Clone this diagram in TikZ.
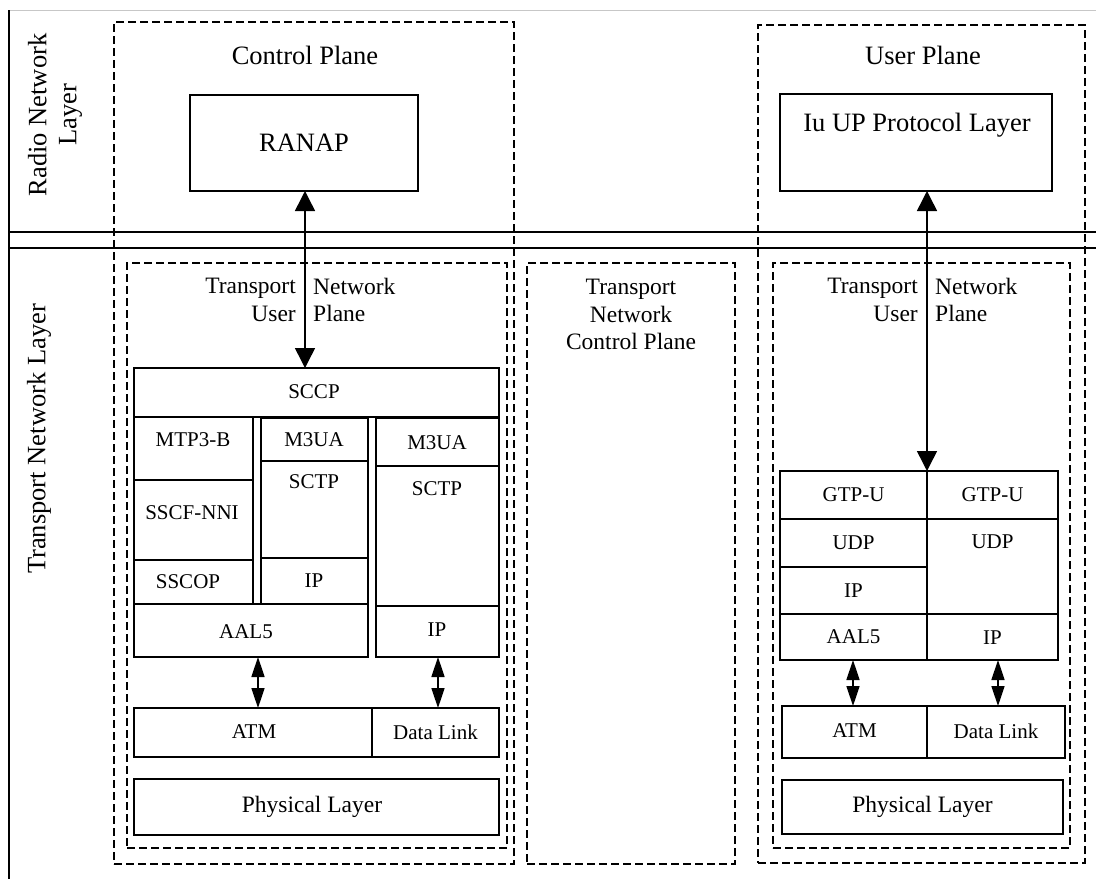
\documentclass[tikz,border=0pt]{standalone}
\usepackage{fontspec}
\setmainfont{Liberation Serif}
\usetikzlibrary{arrows.meta,fit}
\tikzset{
  blk/.style={draw, line width=1.6pt, inner sep=0pt, outer sep=0pt, rectangle},
  grp/.style={draw, line width=1.6pt, dash pattern=on 8pt off 4pt, inner sep=0pt, outer sep=0pt, rectangle},
  tsm/.style={font=\fontsize{21}{24}\selectfont, inner sep=0pt},
  tmd/.style={font=\fontsize{23.5}{27.5}\selectfont, inner sep=0pt},
  tbg/.style={font=\fontsize{26.5}{30}\selectfont, inner sep=0pt},
  bigarr/.style={line width=1.5pt, {Triangle[length=20pt,width=20pt]}-{Triangle[length=20pt,width=20pt]}},
  smarr/.style={line width=1.5pt, {Triangle[length=20pt,width=13pt]}-{Triangle[length=20pt,width=13pt]}},
}
\newcommand\blkbox[5]{\node[blk, fit={(#2,#3) (#4,#5)}] (#1) {};}
\newcommand\grpbox[5]{\node[grp, fit={(#2,#3) (#4,#5)}] (#1) {};}
\begin{document}
\begin{tikzpicture}[x=1pt,y=-1pt]
\useasboundingbox (0,0) rectangle (1096,879);
% frame and layer separators
\draw[line width=1pt, black!22] (9,10) -- (1096,10);
\draw[line width=1.1pt] (9,10) -- (9,879);
\draw[line width=2.5pt] (9,232) -- (1096,232);
\draw[line width=2.5pt] (9,248) -- (1096,248);
% layer labels
\node[tbg, rotate=90, align=center] (lrnl) at (55,115) {Radio Network\\Layer};
\node[tbg, rotate=90] (ltnl) at (39,439) {Transport Network Layer};
% dashed groups
\grpbox{cpl}{114}{22}{514}{864}
\grpbox{upl}{758}{25}{1085}{863}
\grpbox{tnupL}{127}{263}{507}{848}
\grpbox{tncp}{527}{263}{735}{864}
\grpbox{tnupR}{773}{263}{1070}{848}
\node[tbg] (lcp) at (305,55) {Control Plane};
\node[tbg] (lup) at (923,55) {User Plane};
\node[tmd, align=center] (ltncp) at (631,314.5) {Transport\\Network\\Control Plane};
\node[tmd, anchor=east, align=right] (ltnL1) at (296,300) {Transport\\User};
\node[tmd, anchor=west, align=left] (ltnL2) at (313,300) {Network\\Plane};
\node[tmd, anchor=east, align=right] (ltnR1) at (918,300) {Transport\\User};
\node[tmd, anchor=west, align=left] (ltnR2) at (935,300) {Network\\Plane};
% radio network layer boxes
\blkbox{ranap}{190}{95}{418}{191}
\node[tbg] (tranap) at (304,143) {RANAP};
\blkbox{iuup}{780}{94}{1052}{191}
\node[tbg] (tiuup) at (917,125) {Iu UP Protocol Layer};
% control plane stack
\blkbox{sccp}{134}{368}{499}{417}
\blkbox{mtp}{134}{417}{253}{480}
\blkbox{sscf}{134}{480}{253}{560}
\blkbox{sscop}{134}{560}{253}{604}
\blkbox{m3uaA}{261}{418}{368}{461}
\blkbox{sctpA}{261}{461}{368}{558}
\blkbox{ipA}{261}{558}{368}{604}
\blkbox{aalA}{134}{604}{368}{657}
\blkbox{m3uaB}{376}{418}{499}{466}
\blkbox{sctpB}{376}{466}{499}{606}
\blkbox{ipB}{376}{606}{499}{657}
\blkbox{atmA}{134}{708}{372}{757}
\blkbox{dlA}{372}{708}{499}{757}
\blkbox{phyA}{134}{779}{499}{835}
\node[tsm] (tsccp) at (314,392) {SCCP};
\node[tsm] (tmtp) at (193,440) {MTP3-B};
\node[tsm] (tsscf) at (192,513) {SSCF-NNI};
\node[tsm] (tsscop) at (188,582) {SSCOP};
\node[tsm] (tm3uaA) at (314,440) {M3UA};
\node[tsm] (tsctpA) at (314,482) {SCTP};
\node[tsm] (tipA) at (314,581) {IP};
\node[tsm] (taalA) at (246,632) {AAL5};
\node[tsm] (tm3uaB) at (437,443) {M3UA};
\node[tsm] (tsctpB) at (437,489) {SCTP};
\node[tsm] (tipB) at (437,630) {IP};
\node[tsm] (tatmA) at (254,732) {ATM};
\node[tsm] (tdlA) at (435.5,732) {Data Link};
\node[tmd] (tphyA) at (312,807) {Physical Layer};
% user plane stack
\blkbox{gtpL}{780}{471}{927}{519}
\blkbox{gtpR}{927}{471}{1058}{519}
\blkbox{udpL}{780}{519}{927}{567}
\blkbox{ipL}{780}{567}{927}{614}
\blkbox{aalR}{780}{614}{927}{660}
\blkbox{udpR}{927}{519}{1058}{614}
\blkbox{ipR}{927}{614}{1058}{660}
\blkbox{atmR}{782}{706}{927}{758}
\blkbox{dlR}{927}{706}{1065}{758}
\blkbox{phyR}{782}{780}{1063}{834}
\node[tsm] (tgtpL) at (853.5,495) {GTP-U};
\node[tsm] (tgtpR) at (992.5,495) {GTP-U};
\node[tsm] (tudpL) at (853.5,543) {UDP};
\node[tsm] (tipL) at (853.5,591) {IP};
\node[tsm] (taalR) at (853.5,637) {AAL5};
\node[tsm] (tudpR) at (992.5,542) {UDP};
\node[tsm] (tipR) at (992.5,638) {IP};
\node[tsm] (tatmR) at (854.5,731) {ATM};
\node[tsm] (tdlR) at (996,731) {Data Link};
\node[tmd] (tphyR) at (922.5,807) {Physical Layer};
% connectors
\coordinate (ax1) at (305,0);
\coordinate (ax3) at (258,0);
\coordinate (ax4) at (438,0);
\coordinate (ax5) at (853,0);
\coordinate (ax6) at (998,0);
\draw[bigarr] (ranap.south -| ax1) -- (sccp.north -| ax1);
\draw[bigarr] (iuup.south -| gtpL.north east) -- (gtpL.north east);
\draw[smarr] (aalA.south -| ax3) -- (atmA.north -| ax3);
\draw[smarr] (ipB.south -| ax4) -- (dlA.north -| ax4);
\draw[smarr] (aalR.south -| ax5) -- (atmR.north -| ax5);
\draw[smarr] (ipR.south -| ax6) -- (dlR.north -| ax6);
\end{tikzpicture}
\end{document}
